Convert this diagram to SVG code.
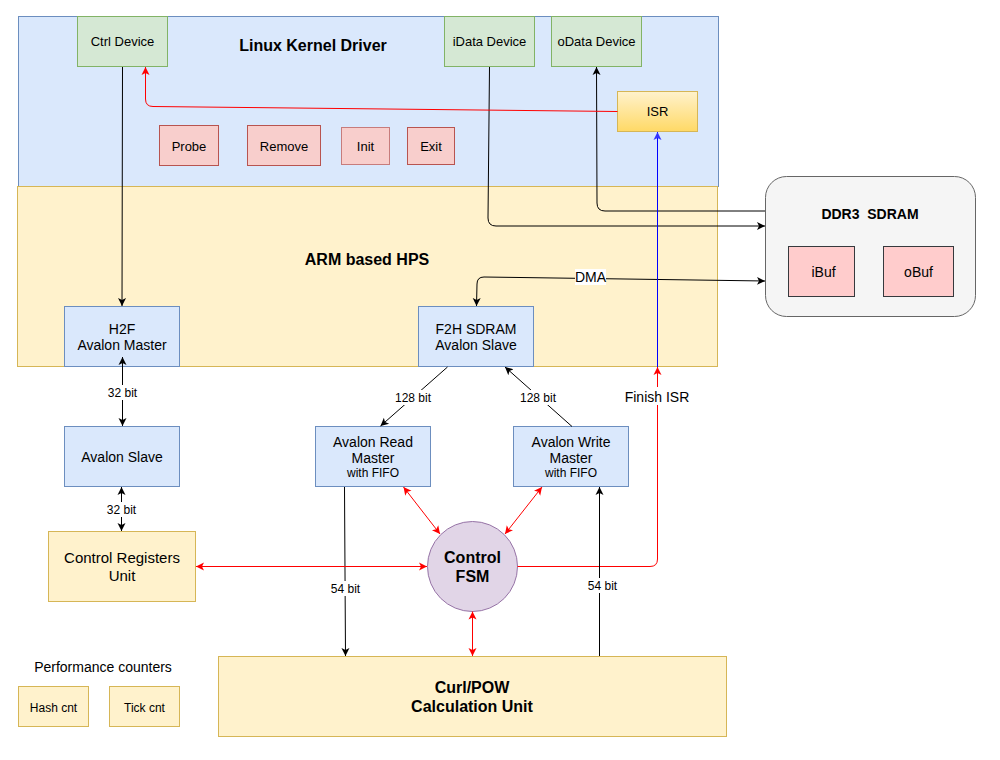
<svg xmlns="http://www.w3.org/2000/svg" width="1000" height="760" viewBox="0 0 1000 760">
<style>
text{font-family:"Liberation Sans",Arial,sans-serif;fill:#000;text-anchor:middle}
.blue{fill:#dae8fc;stroke:#6c8ebf}
.green{fill:#d5e8d4;stroke:#82b366}
.red{fill:#f8cecc;stroke:#b85450}
.yel{fill:#fff2cc;stroke:#d6b656}
.buf{fill:#ffcccc;stroke:#36393d}
.b{font-weight:bold}
.e{fill:none;stroke:#000;stroke-width:1}
.er{fill:none;stroke:#ff0000;stroke-width:1}
.eb{fill:none;stroke:#0000ff;stroke-width:1}
.lbl{font-size:12px}
</style>
<defs>
<linearGradient id="isrg" x1="0" y1="0" x2="0" y2="1"><stop offset="0" stop-color="#fff2cc"/><stop offset="1" stop-color="#ffd966"/></linearGradient>
<marker id="ak" markerUnits="userSpaceOnUse" markerWidth="10" markerHeight="10" refX="8" refY="4" orient="auto-start-reverse" viewBox="0 0 10 8"><path d="M0,0 L8,4 L0,8 L2,4 z" fill="#000"/></marker>
<marker id="ar" markerUnits="userSpaceOnUse" markerWidth="10" markerHeight="10" refX="8" refY="4" orient="auto-start-reverse" viewBox="0 0 10 8"><path d="M0,0 L8,4 L0,8 L2,4 z" fill="#ff0000"/></marker>
<marker id="ab" markerUnits="userSpaceOnUse" markerWidth="10" markerHeight="10" refX="8" refY="4" orient="auto-start-reverse" viewBox="0 0 10 8"><path d="M0,0 L8,4 L0,8 L2,4 z" fill="#3333ff"/></marker>
</defs>
<rect width="1000" height="760" fill="#fff"/>

<g id="linux"><rect class="blue" x="18.5" y="16.5" width="700" height="170"/><text class="b" x="313" y="51" font-size="16">Linux Kernel Driver</text></g>
<g id="hps"><rect class="yel" x="17.5" y="186.5" width="700" height="180"/><text class="b" x="367" y="265" font-size="16">ARM based HPS</text></g>

<g id="ctrl"><rect class="green" x="77.5" y="16.5" width="90" height="50"/><text x="122.5" y="46" font-size="13">Ctrl Device</text></g>
<g id="idata"><rect class="green" x="444.5" y="16.5" width="90" height="50"/><text x="489.5" y="46" font-size="13">iData Device</text></g>
<g id="odata"><rect class="green" x="551.5" y="16.5" width="90" height="50"/><text x="596.5" y="46" font-size="13">oData Device</text></g>
<g id="isr"><rect x="617.5" y="91.5" width="80" height="40" fill="url(#isrg)" stroke="#d6b656"/><text x="657.5" y="116" font-size="13">ISR</text></g>
<g id="probe"><rect class="red" x="159.5" y="125.5" width="59" height="40"/><text x="189" y="151" font-size="13">Probe</text></g>
<g id="remove"><rect class="red" x="247.5" y="125.5" width="73" height="40"/><text x="284" y="151" font-size="13">Remove</text></g>
<g id="init"><rect class="red" x="341.5" y="127.5" width="48" height="37" stroke-opacity="0.7"/><text x="365.5" y="151" font-size="13">Init</text></g>
<g id="exit"><rect class="red" x="407.5" y="127.5" width="47" height="37"/><text x="431" y="151" font-size="13">Exit</text></g>

<g id="h2f"><rect class="blue" x="64.5" y="306.5" width="115" height="60"/><text x="122" y="334" font-size="14">H2F</text><text x="122" y="350" font-size="14">Avalon Master</text></g>
<g id="f2h"><rect class="blue" x="418.5" y="306.5" width="115" height="60"/><text x="476" y="334" font-size="14">F2H SDRAM</text><text x="476" y="350" font-size="14">Avalon Slave</text></g>

<g id="ddr3"><rect x="765.5" y="176.5" width="210" height="140" rx="21" ry="21" fill="#f5f5f5" stroke="#666666"/><text class="b" x="870" y="219" font-size="14" xml:space="preserve">DDR3  SDRAM</text></g>
<g id="ibuf"><rect class="buf" x="788.5" y="246.5" width="66" height="50"/><text x="823.5" y="277" font-size="14">iBuf</text></g>
<g id="obuf"><rect class="buf" x="883.5" y="246.5" width="70" height="50"/><text x="918.5" y="277" font-size="14">oBuf</text></g>

<g id="aslave"><rect class="blue" x="64.5" y="426.5" width="115" height="60"/><text x="122" y="462" font-size="14">Avalon Slave</text></g>
<g id="rmaster"><rect class="blue" x="315.5" y="426.5" width="115" height="60"/><text x="373" y="447" font-size="14">Avalon Read</text><text x="373" y="463" font-size="14">Master</text><text x="373" y="477" font-size="12">with FIFO</text></g>
<g id="wmaster"><rect class="blue" x="513.5" y="426.5" width="115" height="60"/><text x="571" y="447" font-size="14">Avalon Write</text><text x="571" y="463" font-size="14">Master</text><text x="571" y="477" font-size="12">with FIFO</text></g>
<g id="creg"><rect class="yel" x="48.5" y="531.5" width="147" height="70"/><text x="122" y="563" font-size="15">Control Registers</text><text x="122" y="581" font-size="15">Unit</text></g>
<g id="fsm"><circle cx="472.5" cy="566.5" r="45" fill="#e1d5e7" stroke="#9673a6"/><text class="b" x="472.5" y="563" font-size="16">Control</text><text class="b" x="472.5" y="582" font-size="16">FSM</text></g>
<g id="curl"><rect class="yel" x="218.5" y="656.5" width="508" height="80"/><text class="b" x="472" y="693" font-size="16">Curl/POW</text><text class="b" x="472" y="712" font-size="16">Calculation Unit</text></g>
<g id="perf"><text x="103" y="672" font-size="14">Performance counters</text></g>
<g id="hash"><rect class="yel" x="18.5" y="686.5" width="70" height="40"/><text x="53.5" y="712" font-size="12">Hash cnt</text></g>
<g id="tick"><rect class="yel" x="109.5" y="686.5" width="70" height="40"/><text x="144.5" y="712" font-size="12">Tick cnt</text></g>

<g id="connectors">
<path class="e" d="M122.5,67 L122,306" marker-end="url(#ak)"/>
<path class="e" d="M489.5,67 L488,218 Q488,226 496,226 L765,226" marker-end="url(#ak)"/>
<path class="e" d="M765,211 L605,211 Q597,211 597,203 L596.5,67" marker-end="url(#ak)"/>
<path class="e" d="M765,281 L484,277 Q477,277 477,284 L476.5,306" marker-start="url(#ak)" marker-end="url(#ak)"/>
<rect x="575" y="269" width="31" height="16" fill="#fff"/>
<text x="590.5" y="282" font-size="14">DMA</text>
<path class="er" d="M617.5,111.5 L153,106.5 Q145.5,106.5 145.5,99 L145.5,67" marker-end="url(#ar)"/>
<path class="eb" d="M657.5,367 L657.5,132" marker-end="url(#ab)"/>
<path class="er" d="M517.5,566.5 L650,566.5 Q657.5,566.5 657.5,559 L657.5,367" marker-end="url(#ar)"/>
<rect x="623" y="387" width="68" height="18" fill="#fff"/>
<text x="657" y="402" font-size="14">Finish ISR</text>

<path class="e" d="M122.5,357 L122.5,426" marker-start="url(#ak)" marker-end="url(#ak)"/>
<rect x="106" y="385" width="33" height="15" fill="#fff"/>
<text x="122.5" y="397" class="lbl">32 bit</text>
<path class="e" d="M121.5,487 L121.5,531" marker-start="url(#ak)" marker-end="url(#ak)"/>
<rect x="105" y="502" width="33" height="15" fill="#fff"/>
<text x="121.5" y="514" class="lbl">32 bit</text>

<path class="e" d="M447.5,367 L380.5,426" marker-end="url(#ak)"/>
<rect x="393" y="390" width="40" height="15" fill="#fff"/>
<text x="413" y="402" class="lbl">128 bit</text>
<path class="e" d="M572,426.5 L505,367" marker-end="url(#ak)"/>
<rect x="518" y="390" width="40" height="15" fill="#fff"/>
<text x="538" y="402" class="lbl">128 bit</text>

<path class="e" d="M344.5,487 L345.5,656" marker-end="url(#ak)"/>
<rect x="329" y="581" width="33" height="15" fill="#fff"/>
<text x="345.5" y="593" class="lbl">54 bit</text>
<path class="e" d="M599.5,656 L599.5,487" marker-end="url(#ak)"/>
<rect x="586" y="578" width="33" height="15" fill="#fff"/>
<text x="602.5" y="590" class="lbl">54 bit</text>

<path class="er" d="M196,566.5 L427,566.5" marker-start="url(#ar)" marker-end="url(#ar)"/>
<path class="er" d="M403.5,487 L440,534" marker-start="url(#ar)" marker-end="url(#ar)"/>
<path class="er" d="M542,487 L505,534" marker-start="url(#ar)" marker-end="url(#ar)"/>
<path class="er" d="M472.5,611.5 L472.5,656" marker-start="url(#ar)" marker-end="url(#ar)"/>
</g>
</svg>
